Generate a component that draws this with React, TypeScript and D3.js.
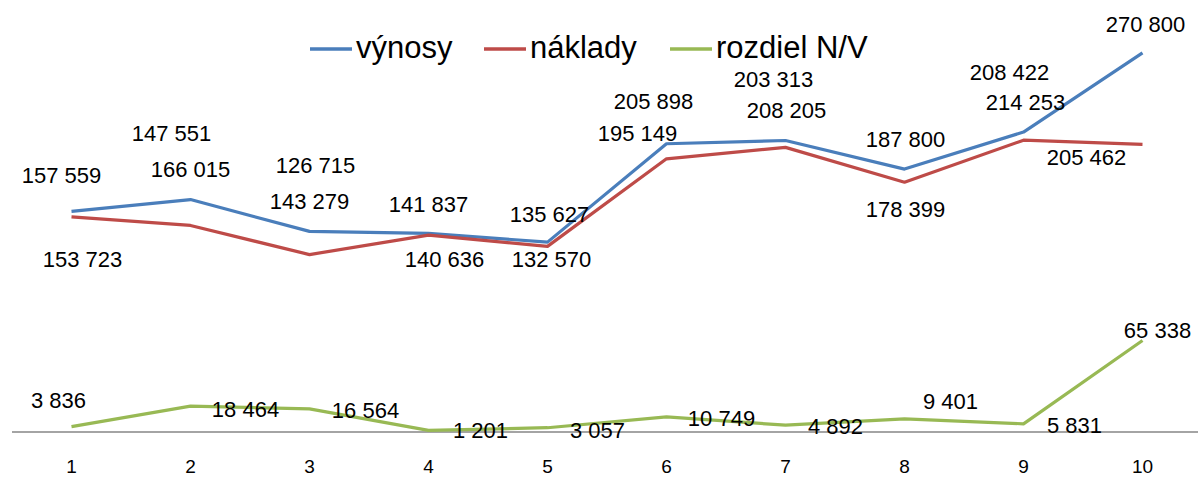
import React from 'react';
import * as d3 from 'd3';

const categories = ['1', '2', '3', '4', '5', '6', '7', '8', '9', '10'];
const seriesNames = ['výnosy', 'náklady', 'rozdiel N/V'];
const vynosy = [157559, 166015, 143279, 141837, 135627, 205898, 208205, 187800, 214253, 270800];
const naklady = [153723, 147551, 126715, 140636, 132570, 195149, 203313, 178399, 208422, 205462];
const rozdiel = [3836, 18464, 16564, 1201, 3057, 10749, 4892, 9401, 5831, 65338];

// label placement, relative to each point (px) – labels were dragged around by hand
const vynosyLabelOffsets: [number, number][] = [
  [-10, -36], [0, -30], [0, -30], [0, -29], [2, -28],
  [-13, -43], [1, -30], [1, -30], [2, -30], [3, -29]
];
const nakladyLabelOffsets: [number, number][] = [
  [11, 42], [-19, -92], [6, -90], [16, 24], [4, 13],
  [-29, -26], [-12, -68], [1, 27], [-14, -68], [-56, 13]
];
const rozdielLabelOffsets: [number, number][] = [
  [-13, -27], [55, 3], [56, 1], [52, 0], [50, 2],
  [55, 1], [50, 1], [46, -18], [51, 1], [15, -10]
];

const colors = ['#4A7EBB', '#BE4B48', '#98B954'];

const width = 1202;
const height = 478;

const fmt = d3.formatLocale({
  decimal: ',',
  thousands: ' ',
  grouping: [3],
  currency: ['', '']
}).format(',d');

const App: React.FC = () => {
  const x = d3.scalePoint<string>()
    .domain(categories)
    .range([12, 1202])
    .padding(0.5);

  const y = d3.scaleLinear()
    .domain([0, 300000])
    .range([432, 12]);

  const line = d3.line<number>()
    .x((_, i) => x(categories[i]) as number)
    .y(d => y(d));

  const series = [
    { name: seriesNames[0], values: vynosy, offsets: vynosyLabelOffsets, color: colors[0] },
    { name: seriesNames[1], values: naklady, offsets: nakladyLabelOffsets, color: colors[1] },
    { name: seriesNames[2], values: rozdiel, offsets: rozdielLabelOffsets, color: colors[2] }
  ];

  const legendX = [310, 484, 670];

  return (
    <svg
      width={width}
      height={height}
      style={{ position: 'absolute', left: 0, top: 0, background: '#fff' }}
      fontFamily="'Liberation Sans', Arial, sans-serif"
    >
      {/* category axis */}
      <line x1={12} x2={1198} y1={y(0)} y2={y(0)} stroke="#868686" strokeWidth={1.5} />
      {categories.map(c => (
        <text
          key={c}
          x={x(c)}
          y={473}
          textAnchor="middle"
          fontSize={19}
          fill="#000"
        >
          {c}
        </text>
      ))}

      {/* lines */}
      {series.map(s => (
        <path
          key={s.name}
          d={line(s.values) || ''}
          fill="none"
          stroke={s.color}
          strokeWidth={3.2}
          strokeLinejoin="round"
        />
      ))}

      {/* data labels */}
      {series.map(s => (
        <g key={s.name + '-labels'}>
          {s.values.map((v, i) => (
            <text
              key={i}
              x={(x(categories[i]) as number) + s.offsets[i][0]}
              y={y(v) + s.offsets[i][1]}
              dy="0.36em"
              textAnchor="middle"
              fontSize={22}
              fill="#000"
            >
              {fmt(v)}
            </text>
          ))}
        </g>
      ))}

      {/* legend */}
      {series.map((s, i) => (
        <g key={s.name + '-legend'} transform={`translate(${legendX[i]},0)`}>
          <line x1={0} x2={42} y1={49} y2={49} stroke={s.color} strokeWidth={3.5} />
          <text x={46} y={58} fontSize={31} fill="#000">{s.name}</text>
        </g>
      ))}
    </svg>
  );
};

export default App;
